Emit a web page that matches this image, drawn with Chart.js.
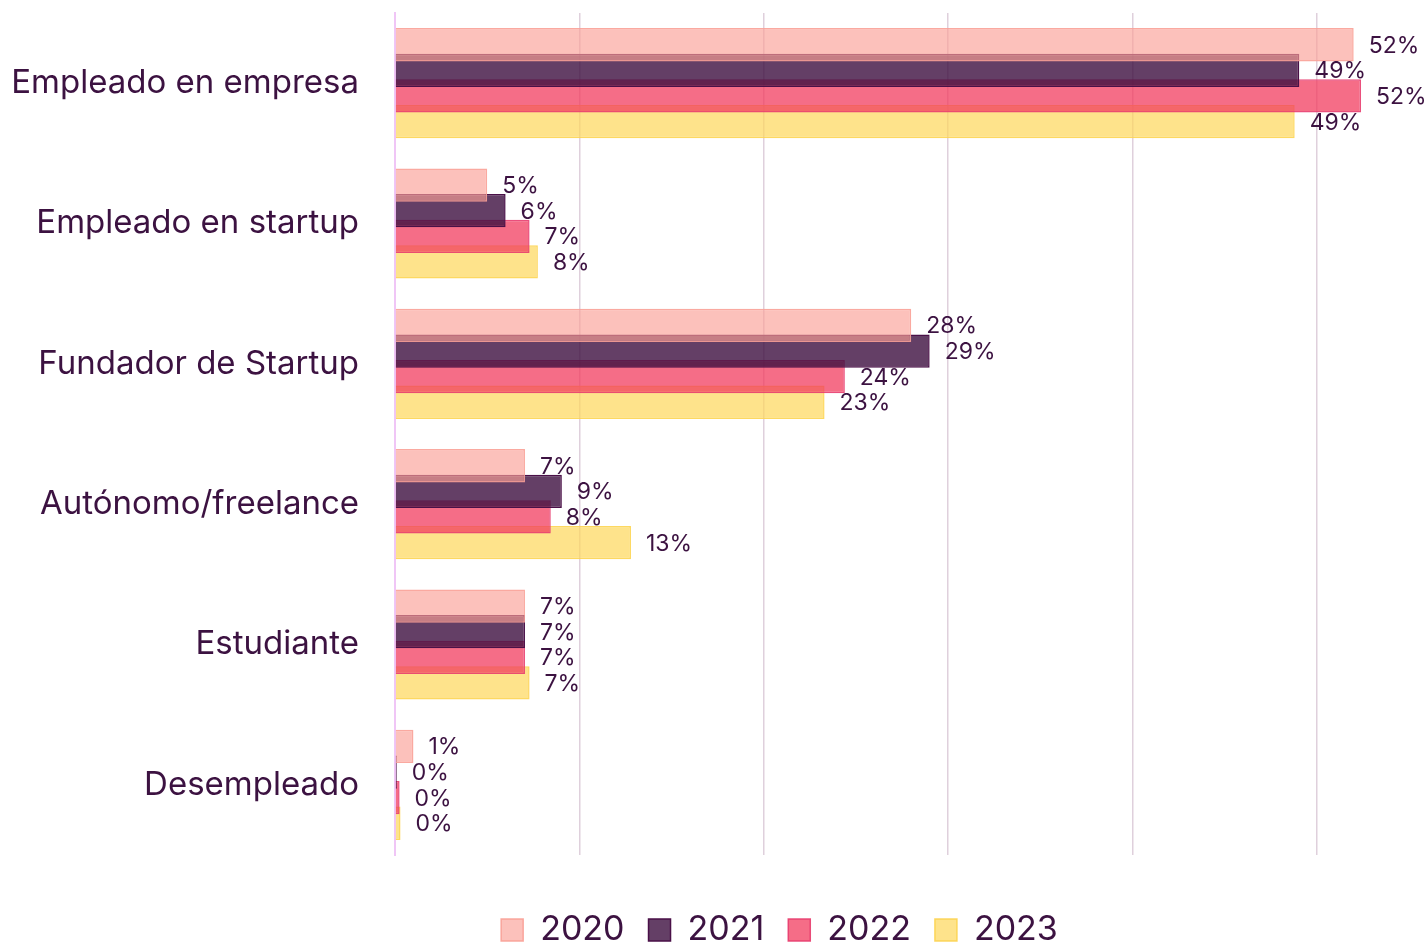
<!DOCTYPE html>
<html>
<head>
<meta charset="utf-8">
<script src="https://cdn.jsdelivr.net/npm/chart.js@4/dist/chart.umd.min.js"></script>
<style>
  html, body { margin: 0; padding: 0; background: #fff; overflow: hidden; }
  #wrap { width: 1427px; height: 945px; position: relative; }
</style>
</head>
<body>
<div id="wrap"><canvas id="grafico"></canvas></div>
<script>
// -- datos --
const categorias = ['Empleado en empresa', 'Empleado en startup', 'Fundador de Startup', 'Autónomo/freelance', 'Estudiante', 'Desempleado'];
const anios = ['2020', '2021', '2022', '2023'];
const valores2020 = [52.0, 5.0, 28.0, 7.05, 7.05, 1.0];
const valores2021 = [49.05, 6.0, 29.0, 9.05, 7.05, 0.1];
const valores2022 = [52.4, 7.3, 24.4, 8.45, 7.05, 0.25];
const valores2023 = [48.8, 7.75, 23.3, 12.8, 7.3, 0.3];

const colorTexto = '#3c1241';

const rellenos = ['rgba(250,160,150,0.65)', 'rgba(61,15,64,0.8)', 'rgba(242,60,95,0.75)', 'rgba(253,215,90,0.7)'];
const bordes = ['rgba(249,160,150,0.9)', 'rgba(74,16,72,1)', 'rgba(232,60,110,0.9)', 'rgba(253,212,80,0.9)'];
const series = [valores2020, valores2021, valores2022, valores2023];

// etiquetas al final de cada barra
const etiquetasBarras = {
  id: 'etiquetasBarras',
  afterDatasetsDraw(chart) {
    const ctx = chart.ctx;
    ctx.save();
    ctx.font = '23px Inter, "Noto Sans", sans-serif';
    ctx.fillStyle = colorTexto;
    ctx.textAlign = 'left';
    ctx.textBaseline = 'middle';
    chart.data.datasets.forEach((ds, i) => {
      const meta = chart.getDatasetMeta(i);
      meta.data.forEach((barra, j) => {
        ctx.fillText(Math.round(ds.data[j]) + '%', barra.x + 15, barra.y + 1);
      });
    });
    ctx.restore();
  }
};

// leyenda un poco desplazada a la derecha, como en el original
const moverLeyenda = {
  id: 'moverLeyenda',
  afterLayout(chart) {
    chart.legend.left += 75;
    chart.legend.right += 75;
  }
};

new Chart(document.getElementById('grafico'), {
  type: 'bar',
  data: {
    labels: categorias,
    datasets: anios.map((anio, i) => ({
      label: anio,
      data: series[i],
      backgroundColor: rellenos[i],
      borderColor: bordes[i],
      borderWidth: 1.5,
      categoryPercentage: 0.73,
      barPercentage: 1.3
    }))
  },
  options: {
    indexAxis: 'y',
    responsive: true,
    maintainAspectRatio: false,
    animation: false,
    layout: { padding: { top: 13, right: 18, left: 0, bottom: -12 } },
    scales: {
      x: {
        min: 0,
        max: 55,
        ticks: { display: false, stepSize: 10 },
        border: { display: false },
        grid: {
          drawTicks: false,
          lineWidth: 1.5,
          color: c => (c.tick && c.tick.value > 0 && c.tick.value % 10 === 0) ? '#dfd0dc' : 'rgba(0,0,0,0)'
        },
        afterFit(scale) { scale.height = 34; }
      },
      y: {
        grid: { display: false },
        border: { display: true, color: '#f0c6f6', width: 2 },
        ticks: {
          color: colorTexto,
          padding: 28,
          font: { family: 'Inter, "Noto Sans", sans-serif', size: 33 }
        },
        afterFit(scale) {
          scale.width = 395;
          scale.paddingTop = 0;
          scale.paddingBottom = 0;
        }
      }
    },
    plugins: {
      legend: {
        position: 'bottom',
        labels: {
          color: colorTexto,
          boxWidth: 22,
          boxHeight: 22,
          padding: 24,
          font: { family: 'Inter, "Noto Sans", sans-serif', size: 34 }
        }
      },
      tooltip: { enabled: false }
    }
  },
  plugins: [etiquetasBarras, moverLeyenda]
});
</script>
</body>
</html>
